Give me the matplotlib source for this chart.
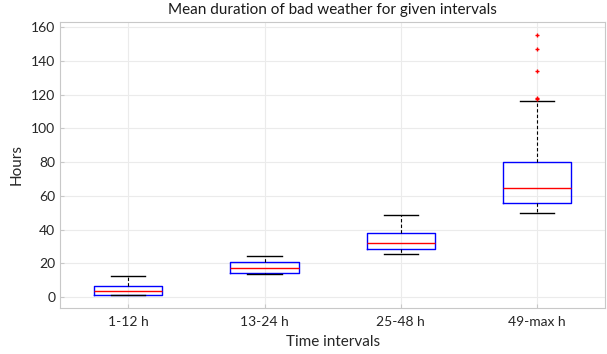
import matplotlib.pyplot as plt

labels = ['1-12 h', '13-24 h', '25-48 h', '49-max h']
q1 = [1.2, 14.4, 28.4, 55.5]
med = [3.5, 17.4, 32.0, 64.4]
q3 = [6.5, 20.5, 38.0, 79.8]
whislo = [1.0, 13.4, 25.5, 49.6]
whishi = [12.4, 24.5, 48.6, 116.3]
fliers = [[], [], [], [117.3, 118.1, 134.1, 147.1, 155.0]]


def main():
    plt.rcParams['font.family'] = ['Lato', 'DejaVu Sans']
    fig = plt.figure(figsize=(6.07, 3.54), dpi=100)
    ax = fig.add_axes([0.099, 0.13, 0.898, 0.808])

    stats = []
    for i in range(len(labels)):
        stats.append({'label': labels[i], 'q1': q1[i], 'med': med[i], 'q3': q3[i],
                      'whislo': whislo[i], 'whishi': whishi[i], 'fliers': fliers[i]})

    ax.bxp(stats, widths=0.5, showfliers=True,
           boxprops=dict(color='#0000ff', linewidth=1.0),
           medianprops=dict(color='#ff0000', linewidth=1.0),
           whiskerprops=dict(color='black', linestyle=(0, (3, 2)), linewidth=0.8),
           capprops=dict(color='black', linewidth=1.0),
           flierprops=dict(marker='+', markeredgecolor='#ff0000', markersize=3,
                           linestyle='none'))

    ax.set_xlim(0.5, 4.5)
    ax.set_ylim(-6.5, 163)
    ax.set_yticks(range(0, 161, 20))
    ax.grid(True, color='#ebebeb', linewidth=0.8)
    ax.set_axisbelow(True)
    for s in ax.spines.values():
        s.set_color('#c8c8c8')
    ax.tick_params(direction='in', colors='#c8c8c8', labelcolor='#262626',
                   labelsize=10, length=3)
    ax.tick_params(axis='x', pad=6)
    ax.set_title('Mean duration of bad weather for given intervals',
                 fontsize=11, color='#1a1a1a', pad=6)
    ax.set_xlabel('Time intervals', fontsize=11, color='#262626', labelpad=5)
    ax.set_ylabel('Hours', fontsize=11, color='#262626', labelpad=5)

    fig.savefig('out.png', dpi=100)


if __name__ == '__main__':
    main()
